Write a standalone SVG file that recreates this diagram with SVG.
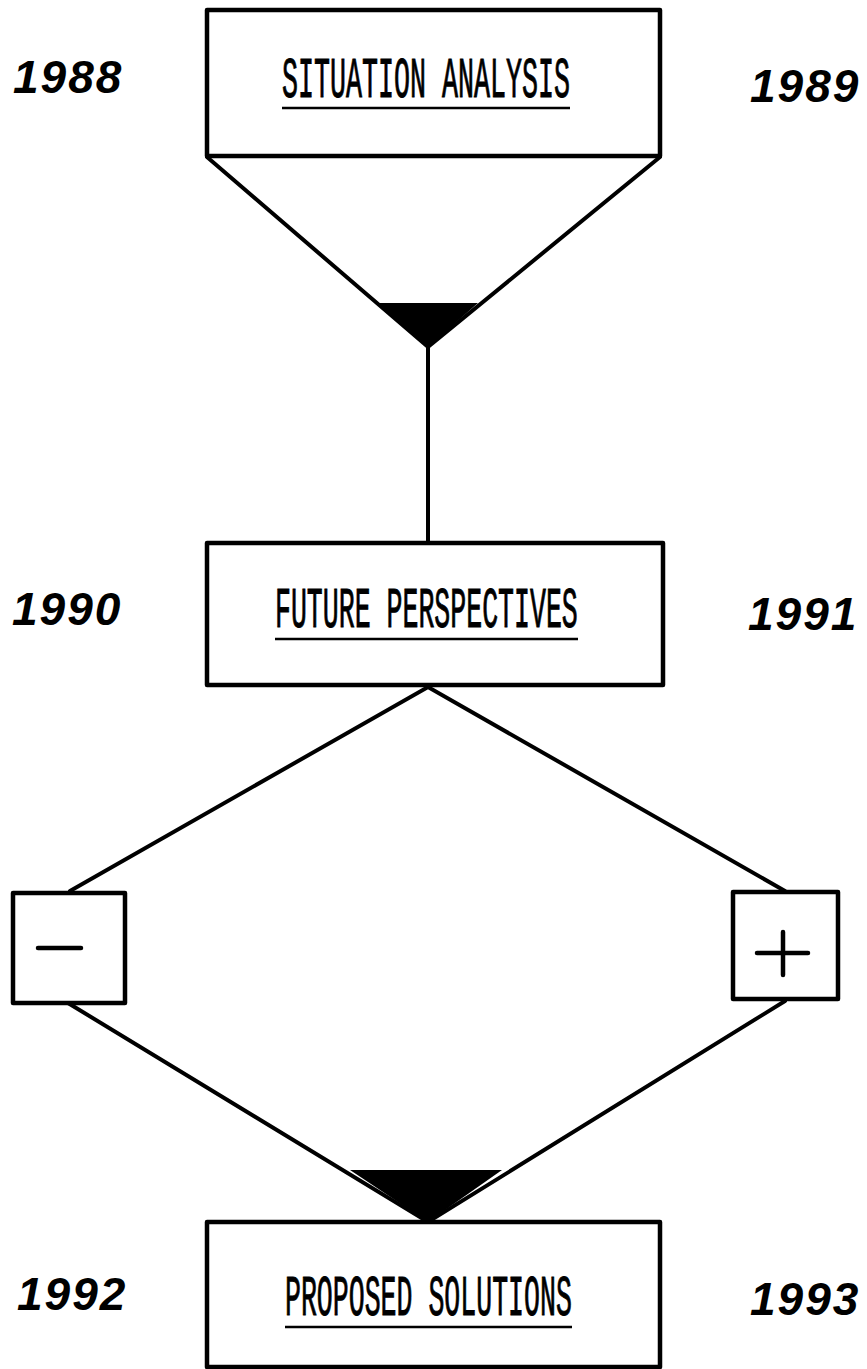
<svg xmlns="http://www.w3.org/2000/svg" width="867" height="1369" viewBox="0 0 867 1369">
<style>
.box{fill:#fff;stroke:#000;stroke-width:4.5;stroke-linejoin:round}
.ln{fill:none;stroke:#000;stroke-width:4;stroke-linecap:round}
.fill{fill:#000;stroke:none}
.lbl{font-family:"Liberation Mono",monospace;font-size:58px;fill:#000;stroke:#000;stroke-width:1}
.ul{stroke:#000;stroke-width:2.5}
.yr{font-family:"Liberation Sans",Arial,sans-serif;font-style:italic;font-weight:bold;font-size:46px;letter-spacing:2px;fill:#000}
.sign{stroke:#000;stroke-width:4.5;stroke-linecap:round}
</style>
<rect width="867" height="1369" fill="#fff"/>
<g id="connectors">
<polyline class="ln" points="207,157 428,347 660,157"/>
<polygon class="fill" points="378,303 478,303 428,347"/>
<line class="ln" x1="428" y1="347" x2="428" y2="543"/>
<polyline class="ln" points="70,891 428,687 785,891"/>
<polyline class="ln" points="68,1003 428,1222 785,1001"/>
<polygon class="fill" points="350,1170 502,1170 428,1222"/>
</g>
<g id="situation">
<rect class="box" x="207" y="10" width="453" height="146"/>
<text class="lbl" transform="translate(282,97) scale(0.46,1)">SITUATION ANALYSIS</text>
<line class="ul" x1="282" y1="108" x2="570" y2="108"/>
</g>
<g id="future">
<rect class="box" x="207" y="543" width="456" height="142"/>
<text class="lbl" transform="translate(275,627) scale(0.458,1)">FUTURE PERSPECTIVES</text>
<line class="ul" x1="275" y1="639" x2="578" y2="639"/>
</g>
<g id="minus">
<rect class="box" x="13" y="893" width="112" height="110"/>
<line class="sign" x1="38" y1="948" x2="81" y2="948"/>
</g>
<g id="plus">
<rect class="box" x="733" y="892" width="105" height="107"/>
<line class="sign" x1="757" y1="953" x2="808" y2="953"/>
<line class="sign" x1="783" y1="932" x2="783" y2="975"/>
</g>
<g id="proposed">
<rect class="box" x="207" y="1222" width="453" height="145"/>
<text class="lbl" transform="translate(285,1315) scale(0.458,1)">PROPOSED SOLUTIONS</text>
<line class="ul" x1="285" y1="1327" x2="572" y2="1327"/>
</g>
<g id="years">
<text class="yr" x="13" y="93">1988</text>
<text class="yr" x="750" y="102">1989</text>
<text class="yr" x="12" y="625">1990</text>
<text class="yr" x="748" y="630">1991</text>
<text class="yr" x="17" y="1310">1992</text>
<text class="yr" x="750" y="1315">1993</text>
</g>
</svg>
